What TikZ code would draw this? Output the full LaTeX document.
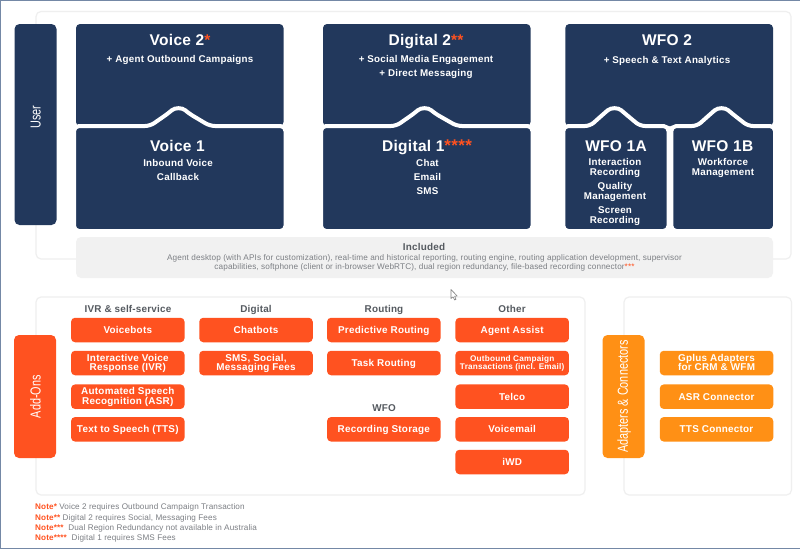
\documentclass[tikz,border=0pt]{standalone}
\usepackage{fontspec}
\setmainfont{Liberation Sans}
\definecolor{navy}{HTML}{22385C}
\definecolor{addon}{HTML}{FF5220}
\definecolor{adapt}{HTML}{FF9015}
\definecolor{panel}{HTML}{EFEFEF}
\definecolor{incl}{HTML}{F1F1F1}
\definecolor{frameblue}{HTML}{7488A6}
\definecolor{greytxt}{HTML}{555A60}
\definecolor{lighttxt}{HTML}{7C7F84}
\newcommand{\fsz}[1]{\fontsize{#1}{#1}\selectfont}
\newcommand{\rd}[1]{\textcolor{addon}{#1}}
\tikzset{
  x=1pt,y=-1pt,
  framepanel/.style={draw=panel,line width=1.2pt,fill=white,rounded corners=5pt},
  navyshape/.style={fill=navy,rounded corners=4pt},
  upperlayer/.style={fill=navy,draw=white,line width=4pt,rounded corners=5pt},
  sidebar/.style={text=white,rounded corners=5pt,minimum width=42pt,inner sep=0pt,align=center},
  sidelabel/.style={rotate=90,text=white,inner sep=0pt,font=\fsz{14.5}},
  twolines/.style={text height=15.6pt,text depth=0pt},
  title/.style={text=white,inner sep=0pt,text height=10.6pt,text depth=0pt,font=\fsz{15.5}\bfseries\addfontfeature{LetterSpace=2}},
  sub/.style={text=white,inner sep=0pt,align=center,text height=7pt,text depth=0pt,font=\fontsize{9.8}{9.6}\selectfont\bfseries\addfontfeature{LetterSpace=2.5}},
  pill/.style={rounded corners=4pt,minimum width=113.5pt,minimum height=24.5pt,inner sep=0pt,text=white,align=center,
    text height=7pt,text depth=0pt,font=\fontsize{9.9}{9.6}\selectfont\bfseries\addfontfeature{LetterSpace=2.5}},
  addonbox/.style={pill,fill=addon},
  adaptbox/.style={pill,fill=adapt},
  heading/.style={text=greytxt,inner sep=0pt,text height=7pt,text depth=0pt,font=\fsz{9.9}\bfseries\addfontfeature{LetterSpace=2}},
  note/.style={anchor=west,inner sep=0pt,text height=6pt,text depth=0pt,text=lighttxt,font=\fsz{8.15}\addfontfeature{LetterSpace=1.5}},
}
\begin{document}
\begin{tikzpicture}
\useasboundingbox (0,0) rectangle (800,549);
\fill[white] (0,0) rectangle (800,549);
\draw[frameblue,line width=1.2pt] (800,0.6) -- (0.6,0.6) -- (0.6,548.4) -- (800,548.4);

% panels
\draw[framepanel] (36,11.5) rectangle (791,259);
\draw[framepanel] (36,297) rectangle (585,495);
\draw[framepanel] (624,297) rectangle (791.5,495);
\fill[incl,rounded corners=5pt] (76,237) rectangle (773,278);

% user bar
\node[sidebar,fill=navy,minimum height=201pt] (userbar) at (35.5,124.5) {};
\node[sidelabel] (userlabel) at (35.8,117) {\scalebox{.75}[1]{User}};

% Voice
\fill[navyshape] (76,24) rectangle (283.5,126);
\path[upperlayer] (74,126) -- (150,126) -- (168,113.5) .. controls (175,107.5) and (182,107.5) .. (189,113.5) -- (210,126) -- (285.5,126) -- (285.5,231) -- (74,231) -- cycle;
% Digital
\fill[navyshape] (323,24) rectangle (530.5,126);
\path[upperlayer] (321,126) -- (396,126) -- (414,113.5) .. controls (421,107.5) and (428,107.5) .. (435,113.5) -- (457,126) -- (532.5,126) -- (532.5,231) -- (321,231) -- cycle;
% WFO
\fill[navyshape] (565.3,24) rectangle (773,126);
\path[upperlayer] (563.3,126) -- (590,126) -- (604,113.5) .. controls (611,107.5) and (618,107.5) .. (625,113.5) -- (640,126) -- (668.5,126) -- (668.5,231) -- (563.3,231) -- cycle;
\path[upperlayer] (671.3,126) -- (697,126) -- (711,113.5) .. controls (718,107.5) and (725,107.5) .. (732,113.5) -- (748,126) -- (775,126) -- (775,231) -- (671.3,231) -- cycle;

% texts in the navy boxes
\node[title] (v2) at (180,40) {Voice 2\rd{*}};
\node[sub] (v2a) at (180,59) {+ Agent Outbound Campaigns};
\node[title] (v1) at (177.5,146) {Voice 1};
\node[sub] (v1a) at (178,163) {Inbound Voice};
\node[sub] (v1b) at (178,177) {Callback};
\node[title] (d2) at (426,40) {Digital 2\rd{**}};
\node[sub] (d2a) at (426,59) {+ Social Media Engagement};
\node[sub] (d2b) at (426,73) {+ Direct Messaging};
\node[title] (d1) at (427,146) {Digital 1\rd{\fontsize{17}{17}\selectfont ****}};
\node[sub] (d1a) at (427.5,163) {Chat};
\node[sub] (d1b) at (427.5,177) {Email};
\node[sub] (d1c) at (427.5,191) {SMS};
\node[title] (w2) at (667,40) {WFO 2};
\node[sub] (w2a) at (667,60) {+ Speech \& Text Analytics};
\node[title] (w1a) at (616,146) {WFO 1A};
\node[sub,twolines] (w1a1) at (615,167.5) {Interaction\\Recording};
\node[sub,twolines] (w1a2) at (615,191.5) {Quality\\Management};
\node[sub,twolines] (w1a3) at (615,215.5) {Screen\\Recording};
\node[title] (w1b) at (722.5,146) {WFO 1B};
\node[sub,twolines] (w1b1) at (723,167.5) {Workforce\\Management};

% included
\node[inner sep=0pt,text height=7pt,text depth=0pt,text=greytxt,font=\fsz{9.9}\bfseries\addfontfeature{LetterSpace=2}] (inclt) at (424,247) {Included};
\node[inner sep=0pt,text height=15pt,text depth=0pt,text=lighttxt,align=center,font=\fontsize{8.2}{9.6}\selectfont\addfontfeature{LetterSpace=1.5}] (inclb) at (424.5,262.3)
 {Agent desktop (with APIs for customization), real-time and historical reporting, routing engine, routing application development, supervisor\\
  capabilities, softphone (client or in-browser WebRTC), dual region redundancy, file-based recording connector\rd{***}};

% side bars
\node[sidebar,fill=addon,minimum height=123pt] (addons) at (35,396.5) {};
\node[sidelabel] (addonslabel) at (35.5,396.7) {\scalebox{.75}[1]{Add-Ons}};
\node[sidebar,fill=adapt,minimum height=123pt] (adapters) at (623.5,396.5) {};
\node[sidelabel] (adapterslabel) at (624,396.5) {\scalebox{.75}[1]{Adapters \& Connectors}};

% headings
\node[heading] (h1) at (128,308.5) {IVR \& self-service};
\node[heading] (h2) at (256,308.5) {Digital};
\node[heading] (h3) at (384,308.5) {Routing};
\node[heading] (h4) at (512,308.5) {Other};
\node[heading] (h5) at (384,407.5) {WFO};

% add-on boxes
\node[addonbox] (a11) at (127.8,330) {Voicebots};
\node[addonbox,twolines] (a12) at (127.8,363) {Interactive Voice\\Response (IVR)};
\node[addonbox,twolines] (a13) at (127.8,396.7) {Automated Speech\\Recognition (ASR)};
\node[addonbox] (a14) at (127.8,429.3) {Text to Speech (TTS)};
\node[addonbox] (a21) at (256,330) {Chatbots};
\node[addonbox,twolines] (a22) at (256,363) {SMS, Social,\\Messaging Fees};
\node[addonbox] (a31) at (383.8,330) {Predictive Routing};
\node[addonbox] (a32) at (383.8,363) {Task Routing};
\node[addonbox] (a34) at (383.8,429.3) {Recording Storage};
\node[addonbox] (a41) at (512.2,330) {Agent Assist};
\node[addonbox,text height=12.6pt,text depth=0pt,font=\fontsize{8.2}{8.2}\selectfont\bfseries\addfontfeature{LetterSpace=2.5}] (a42) at (512.2,363) {Outbound Campaign\\Transactions (incl. Email)};
\node[addonbox] (a43) at (512.2,396.7) {Telco};
\node[addonbox] (a44) at (512.2,429.3) {Voicemail};
\node[addonbox] (a45) at (512.2,462) {iWD};

% adapter boxes
\node[adaptbox,twolines] (c1) at (716.5,363) {Gplus Adapters\\for CRM \& WFM};
\node[adaptbox] (c2) at (716.5,396.7) {ASR Connector};
\node[adaptbox] (c3) at (716.5,429.3) {TTS Connector};

% notes
\node[note] (n1) at (35,506.5) {\textbf{\rd{Note*}} Voice 2 requires Outbound Campaign Transaction};
\node[note] (n2) at (35,517) {\textbf{\rd{Note**}} Digital 2 requires Social, Messaging Fees};
\node[note] (n3) at (35,527) {\textbf{\rd{Note***}}\ \ Dual Region Redundancy not available in Australia};
\node[note] (n4) at (35,537.5) {\textbf{\rd{Note****}}\ \ Digital 1 requires SMS Fees};

% pointer
\draw[fill=white,draw=gray,line width=.6pt,line join=round] (451,289.5) -- (451,298.5) -- (453,296.8) -- (454.6,300) -- (456,299.3) -- (454.6,296.2) -- (457.2,296) -- cycle;
\end{tikzpicture}
\end{document}
